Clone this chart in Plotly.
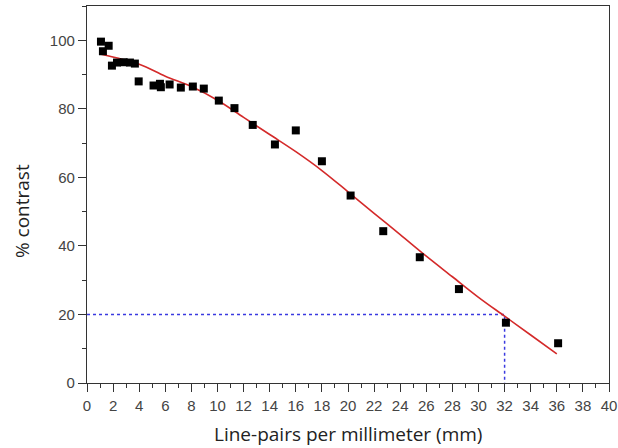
import plotly.graph_objects as go

# measured data points
lp_x = [1.07, 1.22, 1.66, 1.91, 2.30, 2.81, 3.29, 3.67, 3.96, 5.10, 5.59, 5.66, 6.33, 7.19,
        8.11, 8.95, 10.1, 11.3, 12.7, 14.4, 16.0, 18.0, 20.2, 22.7, 25.5, 28.5, 32.1, 36.1]
contrast_y = [99.6, 96.8, 98.4, 92.6, 93.5, 93.6, 93.5, 93.2, 88.0, 86.8, 87.3, 86.3, 87.1, 86.2,
              86.5, 85.9, 82.4, 80.2, 75.3, 69.6, 73.7, 64.7, 54.7, 44.3, 36.7, 27.4, 17.6, 11.6]

# fitted curve
fit_x = [1, 4, 6, 8, 10, 12, 14, 16, 18, 20, 22, 24, 26, 28, 30, 32, 34, 36]
fit_y = [96, 93, 89.5, 86.5, 82.5, 77.5, 72.5, 67.5, 62, 55.8, 49.5, 43.3, 37, 31, 25, 19.5, 14, 8.5]

# 20% contrast reference lines
ref_x = [0, 32, 32]
ref_y = [20, 20, 0]

x_ticks = list(range(0, 41, 2))
y_ticks = list(range(0, 101, 20))

x_title = "Line-pairs per millimeter (mm)"
y_title = "% contrast"

fig = go.Figure()
fig.add_trace(go.Scatter(x=ref_x, y=ref_y, mode="lines",
                         line=dict(color="#3a3ae0", width=1.5, dash="dot"),
                         hoverinfo="skip", showlegend=False))
fig.add_trace(go.Scatter(x=fit_x, y=fit_y, mode="lines", line_shape="spline",
                         line=dict(color="#d42a2a", width=1.6), showlegend=False))
fig.add_trace(go.Scatter(x=lp_x, y=contrast_y, mode="markers",
                         marker=dict(symbol="square", size=8, color="black"),
                         showlegend=False))

axis_common = dict(showline=True, linecolor="#333", linewidth=1.3, mirror=True,
                   showgrid=False, zeroline=False, ticks="outside", ticklen=8,
                   tickcolor="#333", tickwidth=1.3, automargin=False,
                   tickfont=dict(family="Liberation Sans, Arial", size=15, color="#444"))

title_font = dict(family="Open Sans", size=19, color="#222")

fig.update_layout(
    width=618, height=448,
    margin=dict(l=87, r=9, t=6, b=65),
    paper_bgcolor="white", plot_bgcolor="white",
    xaxis=dict(range=[0, 40], tickvals=x_ticks, ticktext=[str(v) for v in x_ticks],
               ticklabelstandoff=1,
               minor=dict(dtick=1, ticks="outside", ticklen=4, tickcolor="#333", tickwidth=1.2),
               **axis_common),
    yaxis=dict(range=[0, 110], tickvals=y_ticks, ticktext=[str(v) for v in y_ticks],
               minor=dict(dtick=10, ticks="outside", ticklen=4, tickcolor="#333", tickwidth=1.2),
               **axis_common),
    annotations=[
        dict(text=x_title, xref="paper", yref="paper", x=0.5, y=-0.135,
             xanchor="center", yanchor="middle", showarrow=False, font=title_font),
        dict(text=y_title, xref="paper", yref="paper", x=-0.1245, y=0.456,
             xanchor="center", yanchor="middle", textangle=-90, showarrow=False,
             font=title_font),
    ],
)

fig.write_html("out.html", config={"displayModeBar": False},
               post_script="document.body.style.margin='0';document.body.style.overflow='hidden';")
